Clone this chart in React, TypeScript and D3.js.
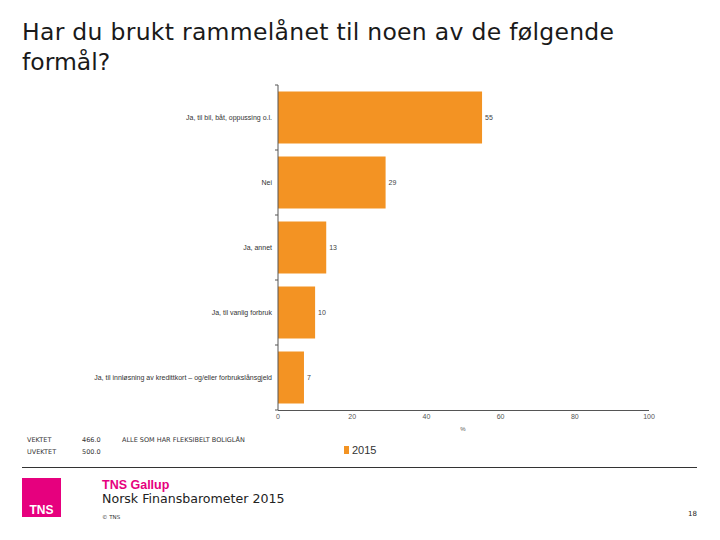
import React from "react";
import * as d3 from "d3";

const categories = [
  "Ja, til bil, båt, oppussing o.l.",
  "Nei",
  "Ja, annet",
  "Ja, til vanlig forbruk",
  "Ja, til innløsning av kredittkort – og/eller forbrukslånsgjeld",
];
const values2015 = [55, 29, 13, 10, 7];
const xTicks = [0, 20, 40, 60, 80, 100];
const seriesName = "2015";

const ORANGE = "#f39323";
const PINK = "#e6007e";

export default function App() {
  const x = d3.scaleLinear().domain([0, 100]).range([278, 649]);
  const y = d3
    .scaleBand<string>()
    .domain(categories)
    .range([85, 410])
    .paddingInner(0.2)
    .paddingOuter(0.1);
  const step = y.step();
  const boundaries = d3.range(categories.length + 1).map((i) => 85 + i * step);

  return (
    <svg width={720} height={540} style={{ position: "absolute", left: 0, top: 0, background: "#fff" }}>
      <text x={22} y={40} fontFamily="DejaVu Sans" fontSize={23.5} fill="#1a1a1a" textLength={592} lengthAdjust="spacing">
        Har du brukt rammelånet til noen av de følgende
      </text>
      <text x={22} y={70} fontFamily="DejaVu Sans" fontSize={23.5} fill="#1a1a1a">
        formål?
      </text>

      {/* bars */}
      {categories.map((c, i) => (
        <g key={c}>
          <rect x={x(0)} y={y(c)!} width={x(values2015[i]) - x(0)} height={y.bandwidth()} fill={ORANGE} />
          <text
            x={x(values2015[i]) + 3}
            y={y(c)! + y.bandwidth() / 2 + 2.5}
            fontFamily="Liberation Sans, Arial"
            fontSize={7}
            fill="#444"
          >
            {values2015[i]}
          </text>
          <text
            x={272}
            y={y(c)! + y.bandwidth() / 2 + 2.5}
            textAnchor="end"
            fontFamily="Liberation Sans, Arial"
            fontSize={7}
            fill="#333"
          >
            {c}
          </text>
        </g>
      ))}

      {/* y axis */}
      <line x1={278} x2={278} y1={85} y2={410} stroke="#555" strokeWidth={1} />
      {boundaries.map((b, i) => (
        <line key={i} x1={275} x2={278} y1={b} y2={b} stroke="#555" strokeWidth={1} />
      ))}

      {/* x axis */}
      <line x1={278} x2={649} y1={410.5} y2={410.5} stroke="#555" strokeWidth={1} />
      {xTicks.map((t) => (
        <text
          key={t}
          x={x(t)}
          y={419}
          textAnchor="middle"
          fontFamily="Liberation Sans, Arial"
          fontSize={7}
          fill="#555"
        >
          {t}
        </text>
      ))}
      <text x={463} y={431} textAnchor="middle" fontFamily="Liberation Sans, Arial" fontSize={6} fill="#555">
        %
      </text>

      {/* base info */}
      <g fontFamily="DejaVu Sans" fontSize={6.5} fill="#333">
        <text x={27} y={442}>VEKTET</text>
        <text x={82} y={442}>466.0</text>
        <text x={27} y={454}>UVEKTET</text>
        <text x={82} y={454}>500.0</text>
        <text x={122} y={442}>ALLE SOM HAR FLEKSIBELT BOLIGLÅN</text>
      </g>

      {/* legend */}
      <rect x={344} y={446} width={5} height={8} fill={ORANGE} />
      <text x={352} y={454} fontFamily="Liberation Sans, Arial" fontSize={11} fill="#333">
        {seriesName}
      </text>

      {/* footer */}
      <line x1={22} x2={697} y1={467.5} y2={467.5} stroke="#333" strokeWidth={1} />
      <rect x={22} y={478} width={39} height={39} fill={PINK} />
      <text x={41.5} y={514} textAnchor="middle" fontFamily="Liberation Sans, Arial" fontWeight="bold" fontSize={12} fill="#fff">
        TNS
      </text>
      <text x={102} y={489} fontFamily="Liberation Sans, Arial" fontWeight="bold" fontSize={12.5} fill={PINK}>
        TNS Gallup
      </text>
      <text x={102} y={503} fontFamily="DejaVu Sans" fontSize={12.6} fill="#222">
        Norsk Finansbarometer 2015
      </text>
      <text x={102} y={519} fontFamily="DejaVu Sans" fontSize={5.5} fill="#333">
        © TNS
      </text>
      <text x={688} y={516} fontFamily="DejaVu Sans" fontSize={7} fill="#222">
        18
      </text>
    </svg>
  );
}
